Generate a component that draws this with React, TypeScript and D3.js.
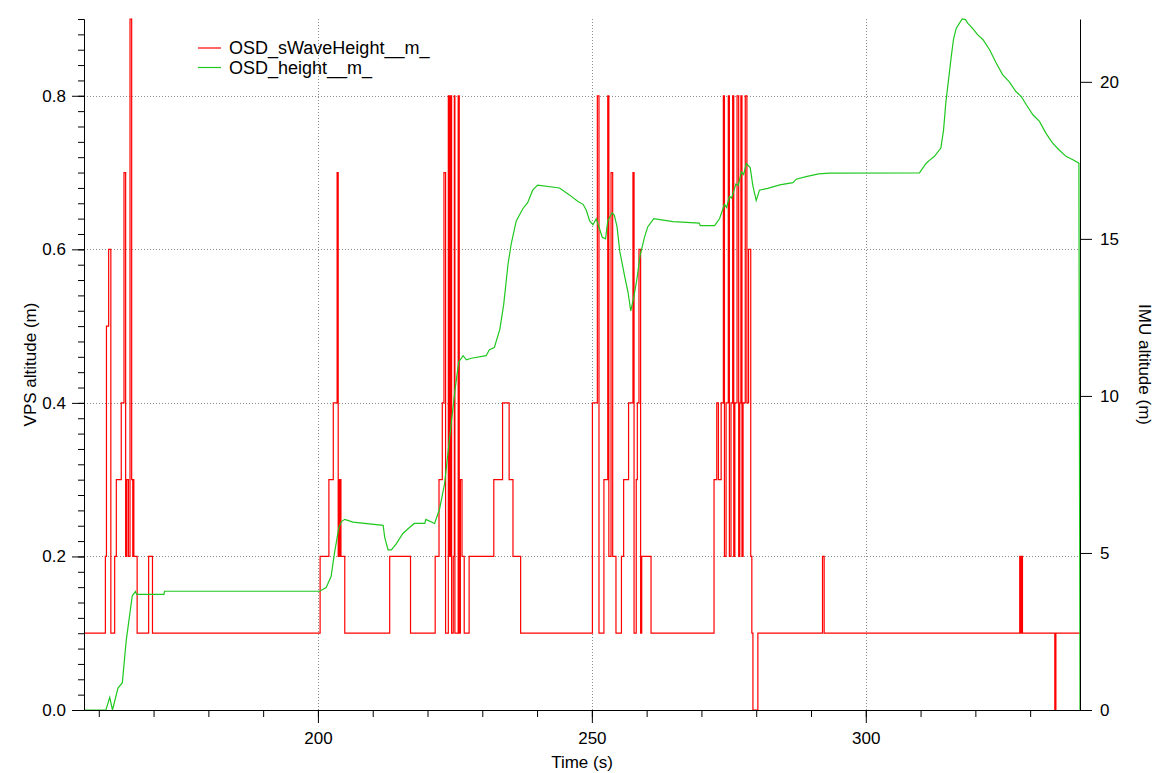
import { useEffect, useRef } from "react";
import * as d3 from "d3";

// OSD_sWaveHeight__m_ : change points (value holds until next time)
const waveTime = [
  157.3, 161.2, 161.4, 161.8, 162.2, 162.9, 163.2, 164.1, 164.6, 164.9, 165.1, 165.4, 165.7,
  166.0, 166.2, 166.3, 166.4, 167.0, 169.1, 169.8, 200.4, 202.0, 202.8, 203.5, 203.7, 203.8,
  204.0, 204.1, 204.2, 204.9, 213.1, 216.9, 221.4, 222.1, 222.7, 223.0, 223.3, 223.8, 224.0,
  224.2, 224.4, 224.7, 224.9, 225.0, 225.6, 225.8, 226.0, 226.3, 226.7, 227.6, 232.1, 233.7,
  234.9, 235.6, 237.0, 250.1, 251.0, 251.3, 252.2, 252.9, 253.1, 253.5, 253.8, 254.4, 255.4,
  255.8, 256.7, 257.5, 257.7, 258.1, 258.3, 258.6, 258.9, 259.1, 260.8, 272.3, 272.8, 273.1,
  273.6, 274.0, 274.2, 274.5, 274.9, 275.1, 275.4, 275.7, 275.9, 276.1, 276.5, 276.8, 277.0,
  277.2, 277.4, 277.6, 278.0, 278.3, 278.6, 279.0, 279.2, 279.4, 280.3, 292.1, 292.4, 328.1,
  328.2, 328.4, 328.6, 334.5, 334.7, 339.1,
];
const waveValue = [
  0.1, 0.2, 0.5, 0.6, 0.1, 0.2, 0.3, 0.4, 0.7, 0.2, 0.3, 0.2, 0.9,
  0.3, 0.2, 0.3, 0.2, 0.1, 0.2, 0.1, 0.2, 0.3, 0.4, 0.7, 0.2, 0.3,
  0.2, 0.3, 0.2, 0.1, 0.2, 0.1, 0.2, 0.3, 0.4, 0.7, 0.1, 0.8, 0.2,
  0.8, 0.1, 0.2, 0.8, 0.1, 0.8, 0.1, 0.3, 0.2, 0.1, 0.2, 0.3, 0.4,
  0.3, 0.2, 0.1, 0.4, 0.8, 0.1, 0.3, 0.8, 0.2, 0.7, 0.2, 0.1, 0.2,
  0.3, 0.4, 0.7, 0.1, 0.3, 0.4, 0.6, 0.1, 0.2, 0.1, 0.3, 0.4, 0.3,
  0.4, 0.8, 0.2, 0.4, 0.8, 0.2, 0.4, 0.8, 0.2, 0.4, 0.8, 0.2, 0.4,
  0.8, 0.2, 0.4, 0.8, 0.4, 0.6, 0.2, 0.1, 0.0, 0.1, 0.2, 0.1, 0.2,
  0.1, 0.2, 0.1, 0.0, 0.1, 0.1,
];

// OSD_height__m_
const heightTime = [
  157.3, 161.3, 162.0, 162.5, 163.5, 164.3, 165.0, 166.1, 166.7, 166.9, 171.9, 172.0, 200.3,
  201.5, 202.4, 203.0, 203.8, 204.3, 204.9, 206.4, 211.9, 212.2, 212.8, 213.4, 214.3, 215.5,
  216.7, 217.6, 219.5, 219.7, 221.3, 222.2, 223.1, 224.0, 225.0, 225.7, 226.5, 227.1, 228.0,
  230.7, 231.3, 232.2, 233.2, 233.9, 234.7, 235.3, 236.2, 237.4, 238.3, 239.2, 240.1, 244.1,
  245.9, 247.4, 248.4, 249.0, 249.6, 250.2, 250.8, 251.9, 252.5, 252.9, 253.7, 254.1, 254.6,
  255.1, 256.0, 256.6, 257.1, 257.6, 258.2, 258.8, 259.6, 260.2, 261.3, 264.8, 269.6, 269.8,
  272.4, 273.3, 274.2, 274.6, 275.1, 275.5, 276.3, 276.7, 277.3, 277.7, 278.2, 278.9, 279.4,
  280.0, 280.6, 282.1, 284.3, 286.7, 287.3, 289.1, 291.4, 293.4, 309.8, 311.0, 311.6, 312.5,
  313.7, 314.2, 314.6, 315.1, 315.6, 316.0, 316.5, 317.1, 317.6, 318.2, 318.6, 319.5, 320.4,
  321.4, 322.6, 323.8, 325.0, 326.2, 327.4, 328.4, 329.3, 330.5, 331.7, 332.9, 334.1, 335.3,
  336.6, 337.8, 338.9, 339.1,
];
const heightValue = [
  0, 0, 0.4, 0, 0.7, 0.87, 2.2, 3.63, 3.77, 3.68, 3.68, 3.78, 3.78,
  3.9, 4.25, 4.97, 5.8, 6.0, 6.07, 5.98, 5.88, 5.49, 5.1, 5.1, 5.29, 5.62,
  5.81, 5.94, 5.94, 6.07, 5.94, 6.4, 7.18, 8.61, 10.17, 11.08, 11.28, 11.15, 11.2,
  11.28, 11.47, 11.54, 12.12, 12.9, 14.2, 14.86, 15.57, 15.96, 16.16, 16.55, 16.71, 16.62,
  16.4, 16.2, 16.1, 15.9, 15.57, 15.45, 15.64, 15.05, 15.0, 15.57, 15.83, 15.75, 15.38,
  14.6, 13.8, 13.3, 12.71, 13.1, 13.69, 14.47, 15.05, 15.38, 15.64, 15.55, 15.5, 15.42,
  15.42, 15.64, 16.1, 16.0, 16.35, 16.3, 16.75, 16.7, 17.13, 17.05, 17.4, 17.27, 16.68,
  16.22, 16.55, 16.61, 16.72, 16.79, 16.9, 16.98, 17.07, 17.09, 17.1, 17.4, 17.5, 17.62,
  17.89, 18.47, 19.32, 20.06, 20.8, 21.34, 21.7, 21.87, 22.0, 21.98, 21.87, 21.7, 21.5,
  21.34, 21.02, 20.6, 20.22, 20.0, 19.69, 19.53, 19.27, 18.95, 18.74, 18.36, 18.05, 17.83,
  17.62, 17.52, 17.41, 0,
];

const leftMajor = [0, 0.2, 0.4, 0.6, 0.8];
const leftMinor = d3.range(0, 0.901, 0.02);
const rightMajor = [0, 5, 10, 15, 20];
const timeMajor = [200, 250, 300];
const timeMinor = d3.range(160, 331, 10);
const seriesNames = ["OSD_sWaveHeight__m_", "OSD_height__m_"];
const seriesColors = ["#ff0000", "#1fc81f"];

function App() {
  const ref = useRef<SVGSVGElement>(null);

  useEffect(() => {
    const svg = d3.select(ref.current);
    svg.selectAll("*").remove();
    const width = 1156;
    const height = 773;
    const margin = { top: 19, right: 76, bottom: 63, left: 84 };
    const font = "'Liberation Sans', Arial, Helvetica, sans-serif";

    const x = d3
      .scaleLinear()
      .domain([157.3, 339.1])
      .range([margin.left, width - margin.right]);
    const yL = d3
      .scaleLinear()
      .domain([0, 0.9])
      .range([height - margin.bottom, margin.top]);
    const yR = d3
      .scaleLinear()
      .domain([0, 22])
      .range([height - margin.bottom, margin.top]);

    svg.attr("width", width).attr("height", height);

    // grid
    const grid = svg.append("g").attr("stroke", "#8c8c8c").attr("stroke-dasharray", "1,2");
    grid
      .selectAll(".hg")
      .data(leftMajor.filter((d) => d > 0))
      .enter()
      .append("line")
      .attr("x1", margin.left)
      .attr("x2", width - margin.right)
      .attr("y1", (d) => Math.round(yL(d)) + 0.5)
      .attr("y2", (d) => Math.round(yL(d)) + 0.5);
    grid
      .selectAll(".vg")
      .data(timeMajor)
      .enter()
      .append("line")
      .attr("y1", margin.top)
      .attr("y2", height - margin.bottom)
      .attr("x1", (d) => Math.round(x(d)) + 0.5)
      .attr("x2", (d) => Math.round(x(d)) + 0.5);

    svg
      .append("clipPath")
      .attr("id", "plot-clip")
      .append("rect")
      .attr("x", margin.left)
      .attr("y", margin.top - 1)
      .attr("width", width - margin.left - margin.right + 1)
      .attr("height", height - margin.top - margin.bottom + 2);

    const waveData = waveTime.map((t, i) => [t, waveValue[i]]);
    const heightData = heightTime.map((t, i) => [t, heightValue[i]]);

    const waveLine = d3
      .line<number[]>()
      .x((d) => x(d[0]))
      .y((d) => yL(d[1]))
      .curve(d3.curveStepAfter);
    const heightLine = d3
      .line<number[]>()
      .x((d) => x(d[0]))
      .y((d) => yR(d[1]));

    const plot = svg.append("g").attr("clip-path", "url(#plot-clip)");
    plot
      .append("path")
      .datum(waveData)
      .attr("fill", "none")
      .attr("stroke", seriesColors[0])
      .attr("stroke-width", 1.2)
      .attr("d", waveLine);
    plot
      .append("path")
      .datum(heightData)
      .attr("fill", "none")
      .attr("stroke", seriesColors[1])
      .attr("stroke-width", 1.2)
      .attr("d", heightLine);

    const styleAxis = (g: any) => {
      g.attr("font-family", font).attr("font-size", 17);
      g.selectAll("path").attr("stroke", "#000");
      g.selectAll("line").attr("stroke", "#000");
      g.selectAll("text").attr("fill", "#000");
    };

    // left axis
    svg
      .append("g")
      .attr("transform", `translate(${margin.left},0)`)
      .call(d3.axisLeft(yL).tickValues(leftMinor).tickSize(6).tickSizeOuter(0).tickFormat(() => ""))
      .call(styleAxis);
    svg
      .append("g")
      .attr("transform", `translate(${margin.left},0)`)
      .call(d3.axisLeft(yL).tickValues(leftMajor).tickSize(12).tickSizeOuter(0).tickPadding(6).tickFormat(d3.format(".1f")))
      .call(styleAxis);

    // right axis
    svg
      .append("g")
      .attr("transform", `translate(${width - margin.right},0)`)
      .call(d3.axisRight(yR).tickValues(rightMajor).tickSize(12).tickSizeOuter(0).tickPadding(8))
      .call(styleAxis);

    // bottom axis
    svg
      .append("g")
      .attr("transform", `translate(0,${height - margin.bottom})`)
      .call(d3.axisBottom(x).tickValues(timeMinor).tickSize(7).tickSizeOuter(0).tickFormat(() => ""))
      .call(styleAxis);
    svg
      .append("g")
      .attr("transform", `translate(0,${height - margin.bottom})`)
      .call(d3.axisBottom(x).tickValues(timeMajor).tickSize(13).tickSizeOuter(0).tickPadding(9).tickFormat(d3.format("d")))
      .call(styleAxis);

    // axis titles
    const cy = (margin.top + height - margin.bottom) / 2;
    svg
      .append("text")
      .attr("transform", `translate(36,${cy}) rotate(-90)`)
      .attr("text-anchor", "middle")
      .attr("font-family", font)
      .attr("font-size", 17)
      .text("VPS altitude (m)");
    svg
      .append("text")
      .attr("transform", `translate(1139,${cy}) rotate(90)`)
      .attr("text-anchor", "middle")
      .attr("font-family", font)
      .attr("font-size", 17)
      .text("IMU altitude (m)");
    svg
      .append("text")
      .attr("x", (margin.left + width - margin.right) / 2)
      .attr("y", 768)
      .attr("text-anchor", "middle")
      .attr("font-family", font)
      .attr("font-size", 17)
      .text("Time (s)");

    // legend
    const legend = svg
      .selectAll(".legend")
      .data(seriesNames)
      .enter()
      .append("g")
      .attr("transform", (_, i) => `translate(198,${48 + i * 19.5})`);
    legend
      .append("line")
      .attr("x1", 0)
      .attr("x2", 23)
      .attr("stroke", (_, i) => seriesColors[i])
      .attr("stroke-width", 1.2);
    legend
      .append("text")
      .attr("x", 31)
      .attr("dy", "0.36em")
      .attr("font-family", font)
      .attr("font-size", 18)
      .text((d) => d);
  }, []);

  return (
    <svg
      ref={ref}
      style={{ position: "absolute", left: 0, top: 0, background: "#fff" }}
    ></svg>
  );
}

export default App;
